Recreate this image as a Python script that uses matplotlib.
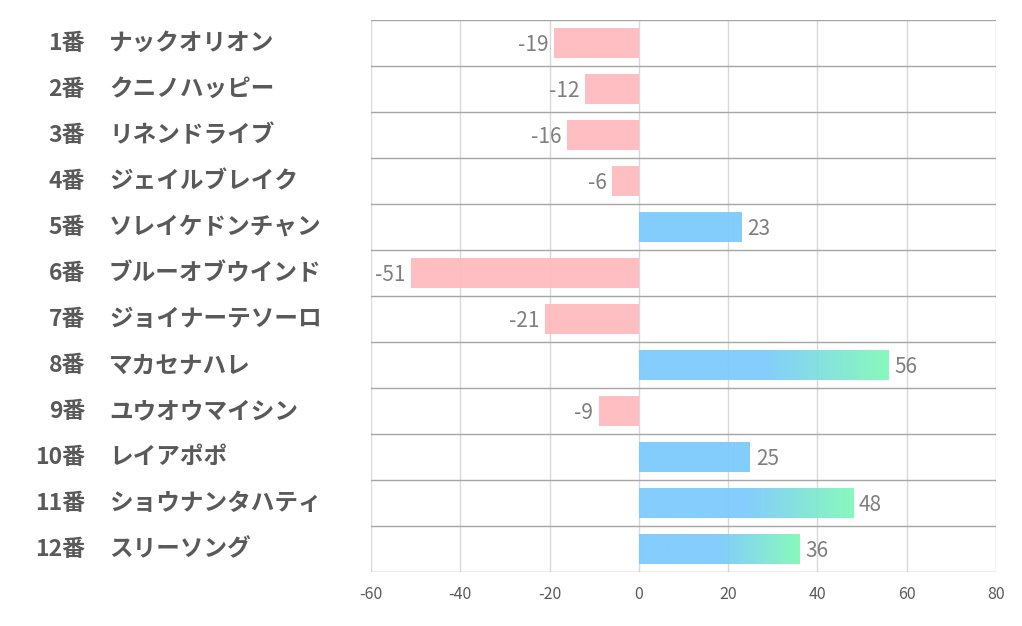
import numpy as np
import matplotlib.pyplot as plt
from matplotlib.colors import to_rgba
from matplotlib.transforms import blended_transform_factory

plt.rcParams['font.family'] = ['Noto Sans CJK JP', 'DejaVu Sans']

# データ
numbers = ['1番', '2番', '3番', '4番', '5番', '6番', '7番', '8番', '9番', '10番', '11番', '12番']
names = ['ナックオリオン', 'クニノハッピー', 'リネンドライブ', 'ジェイルブレイク', 'ソレイケドンチャン',
         'ブルーオブウインド', 'ジョイナーテソーロ', 'マカセナハレ', 'ユウオウマイシン', 'レイアポポ',
         'ショウナンタハティ', 'スリーソング']
values = [-19, -12, -16, -6, 23, -51, -21, 56, -9, 25, 48, 36]
xticks = [-60, -40, -20, 0, 20, 40, 60, 80]

pink = '#FFBABD'
blue = '#79C9FD'
green = '#7DF9B6'
gray_text = '#595959'

fig = plt.figure(figsize=(10.22, 6.26), dpi=100)
ax = fig.add_axes([371 / 1022, 1 - 572 / 626, (996 - 371) / 1022, (572 - 20) / 626])

y = np.arange(len(values))
h = 0.65

# 棒グラフ
for yi, v in zip(y, values):
    if v < 0:
        ax.barh(yi, v, height=h, color=pink, alpha=0.92, zorder=2)
    elif v < 30:
        ax.barh(yi, v, height=h, color=blue, alpha=0.92, zorder=2)
    else:
        # グラデーション（後半で青→緑）
        n = 256
        t = np.clip((np.linspace(0, 1, n) - 0.5) / 0.5, 0, 1)
        c0 = np.array(to_rgba(blue))
        c1 = np.array(to_rgba(green))
        grad = c0[None, :] * (1 - t[:, None]) + c1[None, :] * t[:, None]
        grad[:, 3] = 0.92
        ax.imshow(grad[None, :, :], extent=[0, v, yi + h / 2, yi - h / 2],
                  aspect='auto', interpolation='bilinear', zorder=2)

# 値ラベル
for yi, v in zip(y, values):
    if v < 0:
        ax.annotate(str(v), (v, yi), xytext=(-4, -1.5), textcoords='offset points',
                    ha='right', va='center', fontsize=15, color='#7F7F7F')
    else:
        ax.annotate(str(v), (v, yi), xytext=(4, -1.5), textcoords='offset points',
                    ha='left', va='center', fontsize=15, color='#7F7F7F')

# 軸設定
ax.set_xlim(-60, 80)
ax.set_ylim(len(values) - 0.5, -0.5)
ax.set_xticks(xticks)
ax.set_xticklabels([str(t) for t in xticks])
ax.set_yticks([])
ax.tick_params(axis='x', length=0, pad=10, labelsize=11.5, labelcolor=gray_text)
for s in ax.spines.values():
    s.set_visible(False)

for t in xticks:
    ax.axvline(t, color='#D9D9D9', linewidth=1, zorder=1)
for i in range(len(values) + 1):
    ax.axhline(i - 0.5, color='#A6A6A6', linewidth=1, zorder=1)

# 馬番・馬名
tr = blended_transform_factory(fig.transFigure, ax.transData)
for yi, num, name in zip(y, numbers, names):
    ax.text(85 / 1022, yi, num, transform=tr, ha='right', va='center',
            fontsize=16.5, fontweight='bold', color=gray_text)
    ax.text(109 / 1022, yi, name, transform=tr, ha='left', va='center',
            fontsize=17, fontweight='bold', color=gray_text)

fig.savefig('out.png', dpi=100)
